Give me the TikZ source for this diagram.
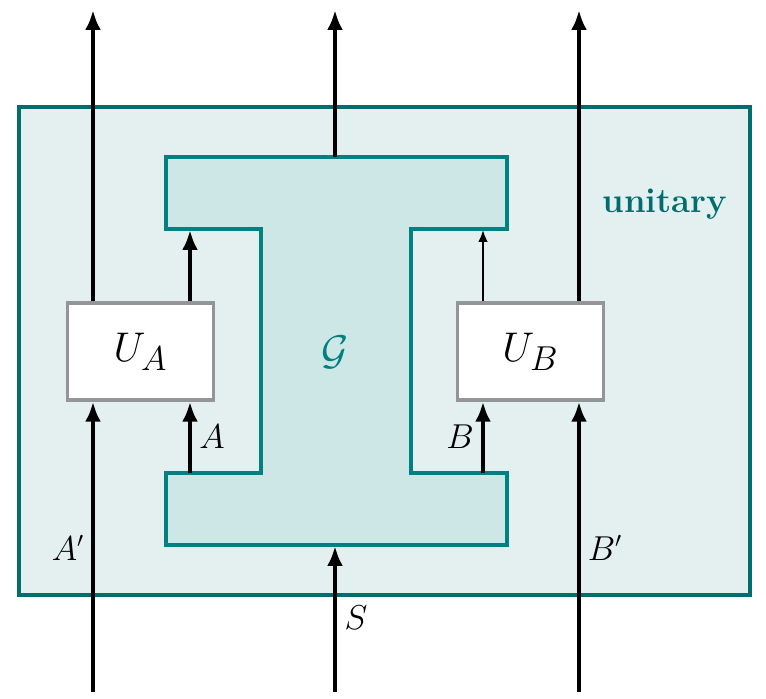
\documentclass[tikz,border=0pt]{standalone}
\usetikzlibrary{arrows.meta}
\DeclareMathSizes{22}{22}{18.3}{14}
\definecolor{outerfill}{HTML}{E4F0F0}
\definecolor{outerdraw}{HTML}{006E6E}
\definecolor{ifill}{HTML}{CDE6E6}
\definecolor{idraw}{HTML}{008080}
\definecolor{boxgray}{HTML}{939598}
\begin{document}
\begin{tikzpicture}[x=0.5pt,y=-0.5pt,
  outerbox/.style={draw=outerdraw,fill=outerfill,line width=1.75pt,minimum width=365.5pt,minimum height=244pt,inner sep=0pt},
  ishape/.style={draw=idraw,fill=ifill,line width=1.75pt,line join=miter},
  ubox/.style={draw=boxgray,fill=white,line width=1.75pt,minimum width=73pt,minimum height=48.5pt,inner sep=0pt,font=\fontsize{22}{26}\selectfont},
  arr/.style={line width=2.2pt,-{Latex[length=10pt,width=8pt]}},
  thinarr/.style={line width=1.3pt,-{Latex[length=6pt,width=5pt]}},
  lbl/.style={font=\fontsize{16}{19}\selectfont,inner sep=0pt}]
\useasboundingbox (0,0) rectangle (766,699);
\node[outerbox] (outer) at (384.5,351) {};
\draw[ishape] (166,157) -- (507,157) -- (507,229) -- (411,229) -- (411,473) -- (507,473) -- (507,545) -- (166,545) -- (166,473) -- (261,473) -- (261,229) -- (166,229) -- cycle;
\coordinate (Itop) at (335,157);
\coordinate (Ibot) at (335,546);
\coordinate (ItlA) at (190,230);
\coordinate (IblA) at (190,473);
\coordinate (ItrB) at (483,230);
\coordinate (IbrB) at (483,473);
\coordinate (inAp) at (93,692);
\coordinate (outAp) at (93,10);
\coordinate (inS) at (335,692);
\coordinate (outS) at (335,10);
\coordinate (inBp) at (579,692);
\coordinate (outBp) at (579,10);
\node[ubox] (UA) at (140.5,351.5) {$U_A$};
\node[ubox] (UB) at (530.5,351.5) {$U_B$};
\draw[arr] (inAp) -- (inAp |- UA.south);
\draw[arr] (inAp |- UA.north) -- (outAp);
\draw[arr] (IblA) -- (IblA |- UA.south);
\draw[arr] (IblA |- UA.north) -- (ItlA);
\draw[arr] (inS) -- (Ibot);
\draw[arr] (Itop) -- (outS);
\draw[arr] (IbrB) -- (IbrB |- UB.south);
\draw[thinarr] (IbrB |- UB.north) -- (ItrB);
\draw[arr] (inBp) -- (inBp |- UB.south);
\draw[arr] (inBp |- UB.north) -- (outBp);
\node[lbl] (lA) at (212,437) {$A$};
\node[lbl] (lB) at (460,437) {$B$};
\node[lbl] (lAp) at (68,548) {$A'$};
\node[lbl] (lBp) at (605,548) {$B'$};
\node[lbl] (lS) at (356,618) {$S$};
\node[font=\fontsize{22}{26}\selectfont,text=idraw] (G) at (335,352) {$\mathcal{G}$};
\node[font=\fontsize{17.3}{20}\selectfont\bfseries,text=outerdraw] (unit) at (665,204) {unitary};
\end{tikzpicture}
\end{document}
